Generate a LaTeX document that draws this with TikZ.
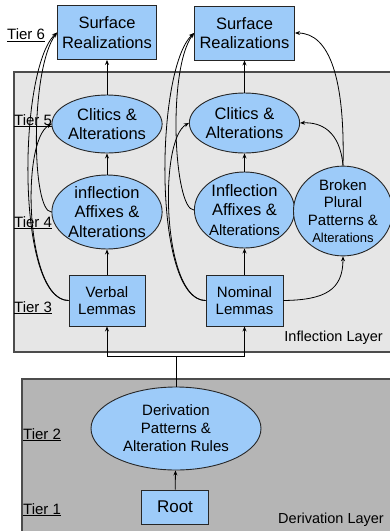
\documentclass[tikz,border=0pt]{standalone}
\usepackage{fontspec}
\setmainfont{Liberation Sans}
\usetikzlibrary{shapes.geometric,arrows.meta}
\definecolor{nodeblue}{HTML}{9DCBF9}
\definecolor{inflgray}{HTML}{E6E6E6}
\definecolor{derivgray}{HTML}{B5B5B5}
\begin{document}
\begin{tikzpicture}[x=1pt,y=-1pt,
  box/.style={draw=black!85, fill=nodeblue, line width=0.9pt, inner sep=0pt, align=center},
  rectnode/.style={box, rectangle},
  ellnode/.style={box, ellipse},
  big/.style={font=\fontsize{16.5}{19.5}\selectfont},
  mid/.style={font=\fontsize{15}{17.5}\selectfont},
  arr/.style={line width=0.8pt, -{Stealth[length=5pt,width=4pt]}},
  plain/.style={line width=0.8pt},
  tier/.style={anchor=base west, inner sep=0pt, font=\fontsize{15}{18}\selectfont},
  layerlabel/.style={anchor=base east, inner sep=0pt, font=\fontsize{14.5}{17}\selectfont},
  layerborder/.style={line width=1.2pt, draw=black!70}]
\useasboundingbox (0,0) rectangle (390,531);
% layers
\fill[inflgray] (14,72) rectangle (392,352);
\draw[layerborder] (392,72) -- (14,72) -- (14,352) -- (392,352);
\fill[derivgray] (22,379) rectangle (392,533);
\draw[layerborder] (392,379) -- (22,379) -- (22,533);
\node[layerlabel] (infl) at (383,341) {Inflection Layer};
\node[layerlabel] (deriv) at (384,523) {Derivation Layer};
% tiers
\node[tier] (t6) at (7,39.5) {\underline{Tier 6}};
\node[tier] (t5) at (14,125) {\underline{Tier 5}};
\node[tier] (t4) at (14,227) {\underline{Tier 4}};
\node[tier] (t3) at (14,312) {\underline{Tier 3}};
\node[tier] (t2) at (23,439) {\underline{Tier 2}};
\node[tier] (t1) at (23,514) {\underline{Tier 1}};
% left column
\node[rectnode, big, minimum width=99, minimum height=54] (sl) at (107,32.5) {Surface\\Realizations};
\node[ellnode, big, minimum width=88, minimum height=58] (cl) at (107,124) {Clitics \&\\Alterations};
\node[ellnode, big, minimum width=102, minimum height=74] (il) at (107,212) {inflection\\Affixes \&\\Alterations};
\node[rectnode, mid, minimum width=76, minimum height=51] (vl) at (107,300.5) {Verbal\\Lemmas};
% right column
\node[rectnode, big, minimum width=100, minimum height=54] (sr) at (244.5,33) {Surface\\Realizations};
\node[ellnode, big, minimum width=94, minimum height=60] (cr) at (244.5,123) {Clitics \&\\Alterations};
\node[ellnode, big, minimum width=98, minimum height=76] (ir) at (244.5,210) {Inflection\\Affixes \&\\{\fontsize{15}{17}\selectfont Alterations}};
\node[rectnode, mid, minimum width=77, minimum height=51] (nl) at (244.5,300.5) {Nominal\\Lemmas};
\node[ellnode, mid, minimum width=88, minimum height=86] (bp) at (343,211) {Broken\\Plural\\Patterns \&\\{\fontsize{13}{15}\selectfont Alterations}};
% derivation
\node[ellnode, mid, minimum width=170, minimum height=83, font=\fontsize{15}{18}\selectfont] (dp) at (176,428.5) {Derivation\\Patterns \&\\Alteration Rules};
\node[rectnode, minimum width=67, minimum height=34, font=\fontsize{17}{20}\selectfont] (rt) at (175,507) {Root};
% connectors
\draw[arr] (rt) -- (dp);
\coordinate (j) at (176,356);
\draw[plain] (dp.north) -- (j);
\draw[arr] (j) -| (vl.south);
\draw[arr] (j) -| (nl.south);
\draw[arr] (vl) -- (il);
\draw[arr] (il) -- (cl);
\draw[arr] (cl) -- (sl);
\draw[arr] (nl) -- (ir);
\draw[arr] (ir) -- (cr);
\draw[arr] (cr) -- (sr);
% west skip curves, left
\draw[arr] (vl.west) .. controls +(-53,0) and +(-39,37) .. (sl.west);
\draw[arr] (vl.west) .. controls +(-43,0) and +(-31,17) .. (cl.west);
\draw[arr] (il.west) .. controls +(-20,0) and +(-27,37) .. (sl.west);
% west skip curves, right
\draw[arr] (nl.west) .. controls +(-53,0) and +(-39,37) .. (sr.west);
\draw[arr] (nl.west) .. controls +(-43,0) and +(-31,17) .. (cr.west);
\draw[arr] (ir.west) .. controls +(-20,0) and +(-27,37) .. (sr.west);
% broken plural
\draw[arr] (nl.east) .. controls (325,300) and (343,290) .. (bp.south);
\draw[arr] (bp.north) .. controls (345,80) and (330,33) .. (sr.east);
\draw[arr] (bp.north) .. controls (340,130) and (320,122) .. (cr.east);
\end{tikzpicture}
\end{document}
